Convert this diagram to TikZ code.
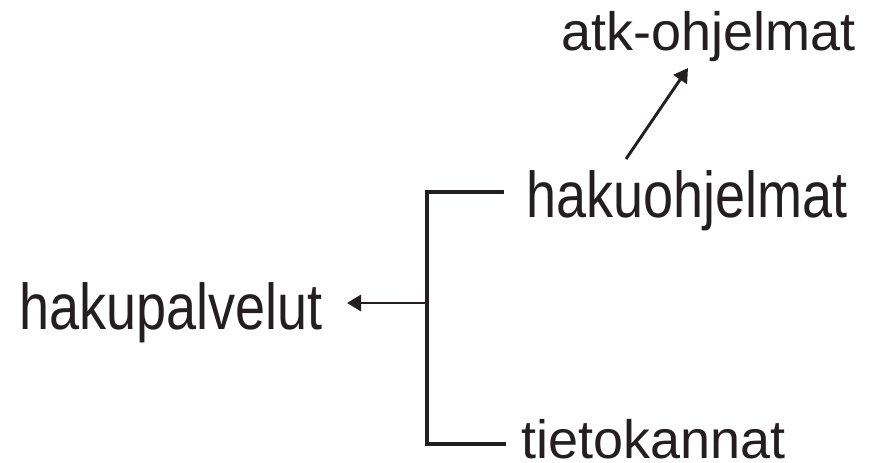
\documentclass[tikz,border=0pt]{standalone}
\usepackage{fontspec}
\setmainfont{Liberation Sans}
\usetikzlibrary{arrows.meta}
\definecolor{ink}{HTML}{231F20}
\begin{document}
\begin{tikzpicture}[x=0.75pt,y=-0.75pt,
  lbl/.style={anchor=base west,inner sep=0pt,text=ink,font=\fontsize{40.5pt}{48pt}\selectfont},
  bracketline/.style={draw=ink,line width=3pt,line join=miter},
  arr/.style={draw=ink,line width=2.2pt,-{Triangle[length=10.5pt,width=12pt]}}]
\useasboundingbox[fill=white] (0,0) rectangle (869,462);
\node[lbl] (atk) at (561,50.5) {atk-ohjelmat};
\node[lbl] (hakuo) at (526.5,217) {\scalebox{1}[1.2]{hakuohjelmat}};
\node[lbl] (hakup) at (19.5,329.5) {\scalebox{1}[1.2]{hakupalvelut}};
\node[lbl] (tieto) at (521,458.5) {tietokannat};
\coordinate (btop) at (504,192);
\coordinate (bbot) at (506,444);
\coordinate (bmid) at (427,303);
\coordinate (htip) at (347,303);
\coordinate (dtail) at (626,159);
\coordinate (dtip) at (688,68);
\draw[bracketline] (btop) -| (bmid) |- (bbot);
\draw[arr] (bmid) -- (htip);
\draw[arr] (dtail) -- (dtip);
\end{tikzpicture}
\end{document}
